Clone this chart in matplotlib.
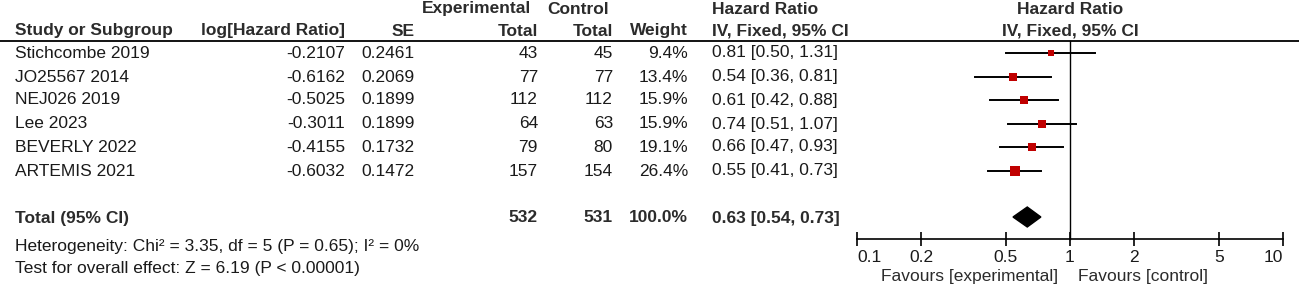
import numpy as np
import matplotlib
matplotlib.use("Agg")
import matplotlib.pyplot as plt
from matplotlib.patches import Polygon

plt.rcParams['font.family'] = ['Liberation Sans', 'DejaVu Sans']

# data
studies = ["Stichcombe 2019", "JO25567 2014", "NEJ026 2019", "Lee 2023", "BEVERLY 2022", "ARTEMIS 2021"]
log_hr = ["-0.2107", "-0.6162", "-0.5025", "-0.3011", "-0.4155", "-0.6032"]
se = ["0.2461", "0.2069", "0.1899", "0.1899", "0.1732", "0.1472"]
exp_total = [43, 77, 112, 64, 79, 157]
ctl_total = [45, 77, 112, 63, 80, 154]
weight = [9.4, 13.4, 15.9, 15.9, 19.1, 26.4]
hr = [0.81, 0.54, 0.61, 0.74, 0.66, 0.55]
ci_lo = [0.50, 0.36, 0.42, 0.51, 0.47, 0.41]
ci_hi = [1.31, 0.81, 0.88, 1.07, 0.93, 0.73]

tot_exp, tot_ctl, tot_weight = 532, 531, "100.0%"
tot_hr, tot_lo, tot_hi = 0.63, 0.54, 0.73
het_text = "Heterogeneity: Chi\u00b2 = 3.35, df = 5 (P = 0.65); I\u00b2 = 0%"
z_text = "Test for overall effect: Z = 6.19 (P < 0.00001)"
ticks = [0.1, 0.2, 0.5, 1, 2, 5, 10]
tick_labels = ["0.1", "0.2", "0.5", "1", "2", "5", "10"]

W, H = 1299, 286
fig = plt.figure(figsize=(W / 100, H / 100), dpi=100)

# text layer in pixel coords
ax = fig.add_axes([0, 0, 1, 1])
ax.set_xlim(0, W)
ax.set_ylim(H, 0)
ax.axis('off')

fs = 12.5
txt = '#1a1a1a'
hdr = '#2b2b2b'

row_y = [53, 77, 100, 124, 147, 171]
tot_y = 218

def put(x, y, s, ha='left', bold=False, col=None):
    ax.text(x, y, s, ha=ha, va='center', fontsize=fs,
            fontweight='bold' if bold else 'normal',
            color=col or (hdr if bold else txt))

# headers
put(422, 9, "Experimental", bold=True)
put(547, 9, "Control", bold=True)
put(712, 9, "Hazard Ratio", bold=True)
put(1070, 9, "Hazard Ratio", ha='center', bold=True)
put(15, 31, "Study or Subgroup", bold=True)
put(345, 31, "log[Hazard Ratio]", ha='right', bold=True)
put(415, 31, "SE", ha='right', bold=True)
put(538, 31, "Total", ha='right', bold=True)
put(613, 31, "Total", ha='right', bold=True)
put(688, 31, "Weight", ha='right', bold=True)
put(712, 31, "IV, Fixed, 95% CI", bold=True)
put(1070, 31, "IV, Fixed, 95% CI", ha='center', bold=True)
ax.plot([0, W], [41, 41], color='black', lw=1.3)

for i, y in enumerate(row_y):
    put(15, y, studies[i])
    put(345, y, log_hr[i], ha='right')
    put(415, y, se[i], ha='right')
    put(538, y, str(exp_total[i]), ha='right')
    put(613, y, str(ctl_total[i]), ha='right')
    put(688, y, "%.1f%%" % weight[i], ha='right')
    put(712, y, "%.2f [%.2f, %.2f]" % (hr[i], ci_lo[i], ci_hi[i]))

put(15, tot_y, "Total (95% CI)", bold=True)
put(538, tot_y, str(tot_exp), ha='right', bold=True)
put(613, tot_y, str(tot_ctl), ha='right', bold=True)
put(688, tot_y, tot_weight, ha='right', bold=True)
put(712, tot_y, "%.2f [%.2f, %.2f]" % (tot_hr, tot_lo, tot_hi), bold=True)
put(15, 246, het_text)
put(15, 269, z_text)

# forest panel, log x, pixel y
x0, x1 = 857, 1283
fa = fig.add_axes([x0 / W, 0, (x1 - x0) / W, 1])
fa.patch.set_alpha(0)
fa.set_xscale('log')
fa.set_xlim(0.1, 10)
fa.set_ylim(H, 0)
for s in ['left', 'right', 'top']:
    fa.spines[s].set_visible(False)
fa.spines['bottom'].set_position(('data', 239))
fa.spines['bottom'].set_linewidth(1.2)
fa.set_xticks(ticks)
fa.set_xticklabels(tick_labels)
fa.xaxis.set_minor_locator(matplotlib.ticker.NullLocator())
fa.tick_params(axis='x', direction='inout', length=10, width=1.2, labelsize=fs, pad=3,
               colors='black', labelcolor=txt)
fa.set_yticks([])
lbls = fa.get_xticklabels()
lbls[0].set_horizontalalignment('left')
lbls[-1].set_horizontalalignment('right')

fa.plot([1, 1], [41, 239], color='black', lw=1)
for i, y in enumerate(row_y):
    fa.plot([ci_lo[i], ci_hi[i]], [y, y], color='black', lw=1.4)
    side = 1.95 * np.sqrt(weight[i]) * 0.72
    fa.scatter([hr[i]], [y], marker='s', s=side ** 2, color='#c00000', linewidths=0, zorder=3)

dia = Polygon([(tot_lo, tot_y - 1), (tot_hr, tot_y - 11), (tot_hi, tot_y - 1), (tot_hr, tot_y + 9)],
              closed=True, color='black')
fa.add_patch(dia)

put(1058, 276, "Favours [experimental]", ha='right', col=hdr)
put(1078, 276, "Favours [control]", col=hdr)

fig.savefig("out.png", dpi=100)
